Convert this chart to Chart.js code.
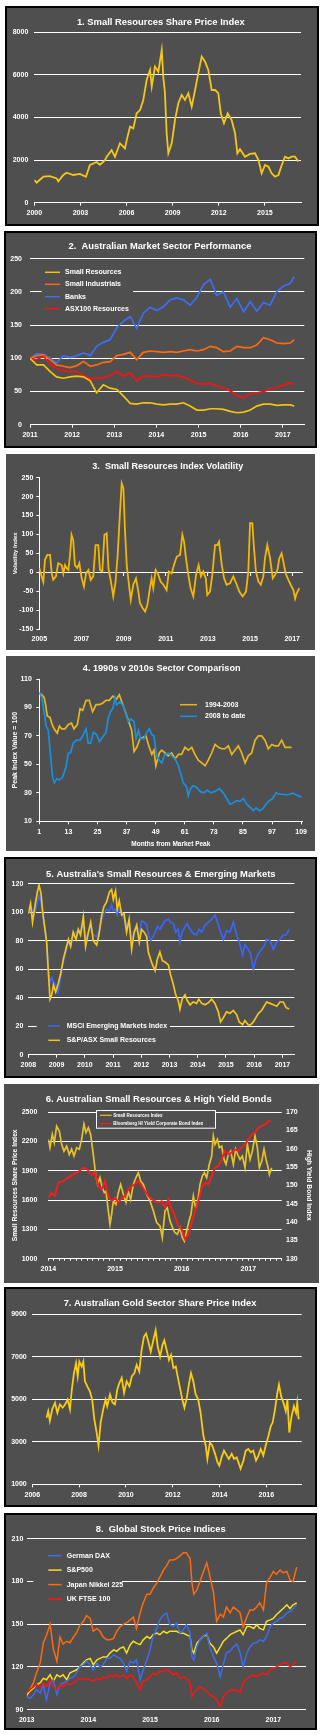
<!DOCTYPE html>
<html>
<head>
<meta charset="utf-8">
<script src="https://cdn.jsdelivr.net/npm/chart.js@4.4.1/dist/chart.umd.min.js"></script>
<style>
  body { margin: 0; background: #fff; width: 324px; height: 1735px; position: relative; overflow: hidden; }
  .panel { position: absolute; box-sizing: border-box; border: 2px solid #000; background: #4f4f4f; }
  .panel.plain { border-color: #4f4f4f; }
  .panel canvas { position: absolute; left: 0; top: 0; }
</style>
</head>
<body>
<div class="panel" style="left:5px;top:6px;width:314px;height:220px"><canvas id="c1" width="310" height="216"></canvas></div>
<div class="panel" style="left:4px;top:231px;width:313px;height:217px"><canvas id="c2" width="309" height="213"></canvas></div>
<div class="panel plain" style="left:6px;top:454px;width:309px;height:196px"><canvas id="c3" width="305" height="192"></canvas></div>
<div class="panel plain" style="left:6px;top:656px;width:309px;height:195px"><canvas id="c4" width="305" height="191"></canvas></div>
<div class="panel" style="left:4px;top:857px;width:313px;height:221px"><canvas id="c5" width="309" height="217"></canvas></div>
<div class="panel plain" style="left:4px;top:1084px;width:315px;height:199px"><canvas id="c6" width="311" height="195"></canvas></div>
<div class="panel" style="left:4px;top:1287px;width:313px;height:220px"><canvas id="c7" width="309" height="216"></canvas></div>
<div class="panel" style="left:4px;top:1513px;width:313px;height:217px"><canvas id="c8" width="309" height="213"></canvas></div>

<script>
// 1. Small Resources share price index
const c1Ticks = [2000, 2003, 2006, 2009, 2012, 2015];
const c1Years = [2000.00, 2000.15, 2000.59, 2001.02, 2001.45, 2001.56, 2001.89, 2002.10, 2002.54, 2002.97,
  2003.36, 2003.62, 2004.06, 2004.27, 2004.60, 2004.71, 2005.03, 2005.25, 2005.57, 2005.90,
  2006.01, 2006.23, 2006.44, 2006.66, 2006.88, 2007.09, 2007.31, 2007.53, 2007.64, 2007.85,
  2008.07, 2008.29, 2008.39, 2008.50, 2008.61, 2008.72, 2008.94, 2009.15, 2009.37, 2009.59,
  2009.80, 2010.02, 2010.24, 2010.46, 2010.67, 2010.89, 2011.11, 2011.32, 2011.54, 2011.76,
  2011.97, 2012.13, 2012.34, 2012.58, 2012.84, 2013.06, 2013.21, 2013.38, 2013.71, 2014.03,
  2014.36, 2014.58, 2014.79, 2015.01, 2015.23, 2015.44, 2015.66, 2015.88, 2016.10, 2016.31,
  2016.53, 2016.75, 2016.96, 2017.18];
const c1Index = [1065, 940, 1220, 1250, 1140, 1000, 1300, 1410, 1300, 1350,
  1220, 1770, 1910, 1780, 2000, 2160, 2470, 2160, 2790, 2550,
  2940, 3570, 3490, 4200, 4350, 4820, 5760, 6230, 5450, 6390,
  6150, 7170, 5920, 5140, 3260, 2320, 2790, 3880, 4670, 5060,
  4820, 5140, 4510, 5290, 6080, 6860, 6620, 6230, 5290, 5290,
  5140, 4200, 3730, 4200, 3880, 3260, 2320, 2510, 2160, 2290,
  2320, 2000, 1380, 1770, 1690, 1380, 1220, 1300, 1770, 2160,
  2080, 2160, 2160, 1930];

// 2. Australian market sector performance
const c2Ticks = [2011, 2012, 2013, 2014, 2015, 2016, 2017];
const c2Years = [2011.00, 2011.16, 2011.32, 2011.48, 2011.63, 2011.79, 2011.95, 2012.11, 2012.27, 2012.43,
  2012.58, 2012.74, 2012.90, 2013.06, 2013.22, 2013.38, 2013.53, 2013.69, 2013.85, 2014.01,
  2014.17, 2014.33, 2014.48, 2014.64, 2014.80, 2014.96, 2015.12, 2015.28, 2015.43, 2015.59,
  2015.75, 2015.91, 2016.07, 2016.23, 2016.38, 2016.54, 2016.70, 2016.86, 2017.02, 2017.18, 2017.27];
const c2SmallRes = [100, 90, 90, 80, 72, 70, 72, 73, 72, 66,
  48, 60, 55, 53, 43, 32, 31, 33, 33, 31,
  30, 31, 31, 33, 28, 22, 22, 24, 24, 23,
  20, 18, 19, 22, 28, 31, 31, 29, 30, 30, 28];
const c2SmallInd = [100, 104, 105, 98, 90, 88, 86, 89, 95, 88,
  90, 94, 95, 104, 106, 109, 98, 109, 111, 110,
  109, 110, 109, 111, 113, 111, 113, 118, 116, 110,
  111, 118, 116, 116, 120, 131, 128, 123, 122, 123, 128];
const c2Banks = [100, 107, 106, 100, 93, 104, 101, 104, 108, 104,
  118, 124, 128, 146, 156, 163, 145, 168, 177, 172,
  178, 188, 191, 188, 180, 192, 211, 219, 195, 200,
  177, 190, 170, 185, 171, 184, 180, 201, 209, 213, 223];
const c2Asx100Res = [100, 98, 103, 91, 85, 81, 80, 80, 74, 69,
  70, 71, 74, 80, 73, 78, 66, 74, 73, 72,
  75, 74, 74, 72, 67, 62, 61, 62, 59, 55,
  51, 44, 40, 47, 48, 50, 53, 56, 60, 63, 60];

// 3. Small Resources index volatility
const c3Ticks = [2005, 2007, 2009, 2011, 2013, 2015, 2017];
const c3Years = [
  2005.00, 2005.11, 2005.19, 2005.27, 2005.38, 2005.51, 2005.59, 2005.66, 2005.79, 2005.90,
  2006.06, 2006.14, 2006.22, 2006.30, 2006.38, 2006.46, 2006.53, 2006.61, 2006.69, 2006.80, 2006.90,
  2007.01, 2007.12, 2007.22, 2007.33, 2007.44, 2007.56, 2007.67, 2007.80, 2007.88, 2007.99,
  2008.09, 2008.20, 2008.28, 2008.40, 2008.51, 2008.62, 2008.72, 2008.83, 2008.91, 2008.99,
  2009.07, 2009.15, 2009.22, 2009.34, 2009.46, 2009.59, 2009.70, 2009.78, 2009.91,
  2010.02, 2010.13, 2010.25, 2010.33, 2010.41, 2010.52, 2010.65, 2010.76, 2010.89,
  2011.04, 2011.15, 2011.28, 2011.39, 2011.52, 2011.68, 2011.79, 2011.87, 2011.96,
  2012.07, 2012.18, 2012.31, 2012.44, 2012.56, 2012.67, 2012.78, 2012.90, 2012.97,
  2013.10, 2013.21, 2013.34, 2013.45, 2013.53, 2013.66, 2013.77, 2013.89,
  2014.05, 2014.21, 2014.37, 2014.49, 2014.65, 2014.81, 2014.92,
  2015.00, 2015.11, 2015.19, 2015.28, 2015.40, 2015.51, 2015.63, 2015.71, 2015.82, 2015.95,
  2016.08, 2016.19, 2016.30, 2016.39, 2016.50, 2016.58, 2016.69, 2016.82, 2016.93,
  2017.06, 2017.14, 2017.22, 2017.34];
const c3Volatility = [
  11, -11, -25, 33, 46, 46, -3, -20, -11, 24,
  19, -3, 19, 11, 6, 46, 99, 85, 19, 11, 24,
  -16, -38, -3, 6, -20, -11, 72, 72, 6, 2,
  99, 103, 11, -25, -64, -25, 46, 160, 235, 222,
  107, 19, -16, -73, -33, -16, -51, -82, -95,
  -104, -86, -42, -16, -42, 6, -7, -25, -33,
  -47, 2, -3, 19, 41, 46, 99, 81, 37,
  -7, -42, -64, -7, 19, -11, 2, -16, -60,
  -51, -7, 72, 72, 81, 19, -16, -33,
  -29, -11, -33, -51, -64, -51, 2,
  130, 130, 63, 2, -25, -33, -11, 37, 72, 37,
  -16, -7, 6, 37, 50, 28, -3, -20, -33,
  -47, -70, -55, -42];

// 4. 1990s v 2010s sector comparison (months from market peak)
const c4Ticks = [1, 13, 25, 37, 49, 61, 73, 85, 97, 109];
const c4MonthsEarly = [1, 2, 3, 3.6, 4.3, 5.4, 6.5, 7.5, 8.4, 9.3,
  10.2, 11.6, 13, 14.3, 15.3, 16.7, 17.8, 18.9, 20.3, 21.6,
  23, 24.4, 25.8, 27.1, 28.5, 29.9, 31.3, 32.9, 34, 35,
  36.3, 37.7, 39.1, 40.1, 41.2, 42.5, 43.9, 45, 46, 47.4,
  48.3, 49.1, 50.5, 51.5, 52.9, 54.2, 55.6, 57, 58.4, 59.7,
  61.1, 62.5, 63.9, 65.2, 66.6, 68, 69.4, 70.7, 72.1, 73.5,
  74.9, 76.2, 77.6, 79, 80.4, 81.7, 83.1, 84.5, 85.9, 87.2,
  88.6, 90, 91.4, 92.7, 94.1, 95.5, 96.9, 98.2, 99.6, 101,
  102.4, 103.7, 105.1];
const c4Early = [100, 99, 97, 92, 84, 83, 77, 74, 72, 77,
  75, 75, 78, 79, 75, 78, 89, 88, 95, 95,
  87, 92, 92, 93, 95, 95, 98, 96, 99, 94,
  88, 81, 74, 59, 62, 68, 69, 70, 64, 57,
  60, 49, 58, 60, 58, 56, 58, 54, 57, 57,
  62, 60, 62, 57, 53, 51, 49, 53, 58, 64,
  62, 61, 61, 63, 57, 60, 63, 58, 51, 56,
  58, 67, 70, 70, 67, 61, 64, 63, 63, 67,
  62, 62, 62];
const c4MonthsRecent = [1, 2, 3, 3.8, 4.7, 5.7, 6.5, 7.2, 8.2, 9.3,
  10.6, 12, 13, 13.9, 15, 16.4, 17.8, 18.9, 20.3, 21.2,
  22.2, 23.3, 24.7, 25.8, 27.1, 28.5, 29.5, 30.4, 31.5, 32.2,
  32.9, 34.3, 35.7, 36.8, 37.7, 38.8, 40.1, 40.9, 41.9, 42.8,
  44.2, 45.3, 46.4, 47.4, 48.3, 49.4, 50.5, 51.5, 52.9, 54.2,
  55.6, 57, 58.4, 59.3, 60.4, 61.8, 62.5, 63.4, 64.5, 65.9,
  67.3, 68.9, 70.3, 71.7, 73.5, 75.3, 76.9, 78.3, 79.7, 81.1,
  82.4, 83.8, 85.2, 86.6, 87.9, 89.3, 90.4, 91.8, 93.2, 94.5,
  95.9, 97.3, 98.7, 100, 101.4, 102.8, 104.2, 105.5, 107.2, 109.2];
const c4Recent = [100.6, 97, 86.6, 77, 74, 55, 41, 37, 40, 39,
  41, 48, 58, 58, 65, 67, 67, 70, 75, 65,
  65, 72.5, 71, 66, 69, 72.5, 83, 87, 90, 97,
  92, 94, 91, 85, 80, 82, 80, 68, 74, 68,
  68, 72.5, 75, 71, 70, 56, 53, 51, 57, 58,
  56, 54, 49, 44, 37, 34, 28, 33, 35, 34,
  31, 30, 32, 30, 31, 33, 30, 26, 22, 23,
  24.5, 24, 26, 22, 20, 17.5, 19.4, 17.5, 18.7, 22,
  24.5, 26, 30, 29, 29, 28.5, 29, 29.7, 28.5, 27];

// 5. Australia's small resources & emerging markets
const c5Ticks = [2008, 2009, 2010, 2011, 2012, 2013, 2014, 2015, 2016, 2017];
const c5Years = [2008.00, 2008.08, 2008.15, 2008.24, 2008.32, 2008.38, 2008.45, 2008.51, 2008.59, 2008.65,
  2008.71, 2008.77, 2008.83, 2008.89, 2008.97, 2009.06, 2009.16, 2009.24, 2009.33, 2009.42,
  2009.50, 2009.59, 2009.69, 2009.77, 2009.85, 2009.95, 2010.03, 2010.13, 2010.21, 2010.30,
  2010.42, 2010.50, 2010.60, 2010.68, 2010.77, 2010.87, 2010.95, 2011.01, 2011.09, 2011.15,
  2011.22, 2011.31, 2011.39, 2011.48, 2011.57, 2011.66, 2011.75, 2011.84, 2011.93, 2012.01,
  2012.10, 2012.19, 2012.25, 2012.33, 2012.40, 2012.49, 2012.57, 2012.66, 2012.75, 2012.84,
  2012.96, 2013.04, 2013.14, 2013.22, 2013.31, 2013.37, 2013.45, 2013.55, 2013.63, 2013.73,
  2013.84, 2013.96, 2014.04, 2014.14, 2014.26, 2014.38, 2014.49, 2014.61, 2014.73, 2014.81,
  2014.91, 2015.02, 2015.14, 2015.26, 2015.38, 2015.47, 2015.59, 2015.67, 2015.79, 2015.87,
  2015.97, 2016.06, 2016.15, 2016.26, 2016.38, 2016.44, 2016.56, 2016.68, 2016.80, 2016.91,
  2017.03, 2017.13, 2017.24];
const c5SmallRes = [99, 106, 93, 105, 114, 119, 113, 100, 88, 79,
  58, 39, 42, 49, 44, 50, 58, 67, 74, 81,
  76, 86, 81, 88, 84, 97, 76, 86, 93, 80,
  77, 84, 98, 104, 107, 114, 116, 109, 115, 102,
  108, 98, 99, 86, 95, 74, 86, 91, 79, 88,
  86, 83, 72, 67, 63, 59, 67, 72, 66, 65,
  63, 56, 49, 42, 38, 32, 39, 42, 38, 35,
  37, 36, 39, 36, 35, 36.5, 39, 36, 30, 23,
  26, 30, 29, 31, 28, 23, 21, 24, 21, 21,
  23, 26, 29, 31, 35, 37, 36, 35, 34, 37,
  37, 33, 32];
const c5Msci = [99, 104, 101, 100, 107, 112, 107, 99, 88, 78,
  60, 51, 54, 51, 49, 44, 56, 65, 72, 79,
  77, 84, 86, 86, 87, 91, 81, 86, 90, 84,
  83, 87, 95, 99, 102, 101, 105, 101, 102, 98,
  102, 100, 95, 91, 93, 81, 86, 88, 84, 94,
  93, 91, 85, 80, 82, 86, 90, 88, 91, 94,
  95, 93, 92, 86, 88, 79, 86, 90, 92, 88,
  85, 84, 88, 86, 91, 93, 95, 98, 91, 86,
  81, 87, 86, 93, 84, 79, 70, 77, 74, 71,
  60, 67, 71, 74, 77, 81, 80, 74, 79, 81,
  84, 84, 88];

// 6. Australian small resources & high yield bonds
const c6Ticks = [2014, 2015, 2016, 2017];
const c6ResYears = [2014.000, 2014.025, 2014.06, 2014.09, 2014.125, 2014.165, 2014.20, 2014.235, 2014.275, 2014.315,
  2014.35, 2014.385, 2014.425, 2014.465, 2014.50, 2014.535, 2014.565, 2014.60, 2014.635, 2014.675,
  2014.71, 2014.74, 2014.775, 2014.81, 2014.84, 2014.865, 2014.90, 2014.925, 2014.95, 2014.975,
  2015.015, 2015.05, 2015.085, 2015.125, 2015.165, 2015.20, 2015.235, 2015.275, 2015.315, 2015.35,
  2015.385, 2015.425, 2015.475, 2015.525, 2015.575, 2015.625, 2015.675, 2015.71, 2015.75, 2015.785,
  2015.825, 2015.865, 2015.90, 2015.935, 2015.975, 2016.01, 2016.04, 2016.075, 2016.11, 2016.14,
  2016.175, 2016.21, 2016.24, 2016.275, 2016.31, 2016.34, 2016.375, 2016.415, 2016.45, 2016.475,
  2016.50, 2016.535, 2016.565, 2016.60, 2016.635, 2016.665, 2016.70, 2016.735, 2016.775, 2016.81,
  2016.84, 2016.875, 2016.91, 2016.95, 2016.985, 2017.025, 2017.06, 2017.10, 2017.135, 2017.165,
  2017.20, 2017.235, 2017.265, 2017.29, 2017.315, 2017.35];
const c6SmallRes = [2220, 2135, 2270, 2185, 2355, 2305, 2170, 2100, 2150, 2065,
  2120, 2050, 2135, 2120, 2220, 2375, 2290, 2340, 2270, 2065,
  1860, 1760, 1830, 1725, 1675, 1690, 1490, 1350, 1455, 1590,
  1555, 1675, 1760, 1660, 1575, 1690, 1605, 1760, 1830, 1880,
  1795, 1760, 1660, 1590, 1490, 1370, 1335, 1215, 1490, 1520,
  1385, 1315, 1265, 1250, 1315, 1215, 1180, 1285, 1385, 1455,
  1640, 1520, 1575, 1760, 1845, 1880, 1830, 1965, 2050, 2255,
  2170, 2220, 2135, 2150, 2015, 1965, 2065, 2100, 1965, 2120,
  2065, 2015, 2050, 1930, 2170, 2015, 2100, 2255, 2135, 1930,
  1995, 2120, 2015, 1950, 1860, 1930];
const c6BondYears = [2014.00, 2014.05, 2014.10, 2014.15, 2014.225, 2014.30, 2014.375, 2014.45, 2014.525, 2014.585,
  2014.65, 2014.70, 2014.75, 2014.80, 2014.85, 2014.90, 2014.95,
  2015.00, 2015.05, 2015.10, 2015.15, 2015.20, 2015.25, 2015.30, 2015.35, 2015.40, 2015.45,
  2015.50, 2015.55, 2015.60, 2015.65, 2015.70, 2015.75, 2015.80, 2015.85, 2015.90, 2015.95,
  2016.00, 2016.05, 2016.10, 2016.15, 2016.20, 2016.25, 2016.30, 2016.35, 2016.40, 2016.45,
  2016.50, 2016.55, 2016.60, 2016.65, 2016.70, 2016.75, 2016.80, 2016.85, 2016.90, 2016.95,
  2017.00, 2017.05, 2017.10, 2017.15, 2017.20, 2017.25, 2017.30, 2017.335];
const c6Bonds = [146.6, 148, 147.1, 150.7, 151.2, 152.1, 153, 153.7, 154.8, 154.4,
  152.8, 153.5, 149.8, 148.9, 151.2, 147.1, 145.7,
  146.6, 145.3, 146.6, 147.1, 148.9, 149.8, 150.3, 151.2, 149.8, 148.5,
  147.1, 146.2, 145.7, 145.3, 145.7, 143.9, 146.2, 143.5, 141.6, 138.9,
  138, 135.3, 136.6, 139.8, 143, 145.7, 149.4, 150.7, 150.3, 152.5,
  154.8, 155.3, 157.1, 159.4, 158.5, 158.9, 159.8, 159.4, 160.3, 161.2,
  162.5, 163.9, 164.4, 165.7, 166.2, 166.6, 167.4, 167.7];

// 7. Australian gold sector share price index
const c7Ticks = [2006, 2008, 2010, 2012, 2014, 2016];
const c7Years = [
  2006.61, 2006.68, 2006.75, 2006.85, 2006.97,
  2007.07, 2007.18, 2007.30, 2007.40, 2007.51, 2007.61, 2007.68, 2007.78, 2007.87, 2007.94,
  2008.01, 2008.11, 2008.18, 2008.25, 2008.35, 2008.46, 2008.56, 2008.65, 2008.75, 2008.83, 2008.92,
  2009.03, 2009.13, 2009.20, 2009.32, 2009.43, 2009.53, 2009.63, 2009.72, 2009.82, 2009.92,
  2010.03, 2010.15, 2010.25, 2010.36, 2010.46, 2010.57, 2010.67, 2010.77, 2010.86, 2010.96,
  2011.06, 2011.17, 2011.27, 2011.36, 2011.46, 2011.56, 2011.64, 2011.74, 2011.84, 2011.93,
  2012.03, 2012.13, 2012.21, 2012.31, 2012.41, 2012.50, 2012.60, 2012.70, 2012.78, 2012.88, 2012.98,
  2013.09, 2013.19, 2013.31, 2013.41, 2013.48, 2013.59, 2013.69, 2013.81, 2013.91, 2013.99,
  2014.09, 2014.19, 2014.31, 2014.40, 2014.52, 2014.62, 2014.73, 2014.83, 2014.90,
  2015.02, 2015.12, 2015.23, 2015.33, 2015.44, 2015.56, 2015.66, 2015.76, 2015.87, 2015.97,
  2016.09, 2016.19, 2016.27, 2016.37, 2016.47, 2016.54, 2016.63, 2016.73, 2016.83, 2016.90, 2016.98,
  2017.08, 2017.18, 2017.27, 2017.32, 2017.38];
const c7Gold = [
  4130, 4440, 3980, 4520, 4830,
  4360, 4750, 4600, 4750, 4980, 4520, 5370, 6220, 6690, 6070,
  6770, 6530, 6770, 5840, 5600, 5370, 4980, 4050, 3430, 2810, 3900,
  4520, 4980, 4670, 5220, 4830, 4750, 5450, 5760, 6000, 5290,
  5840, 5600, 6070, 6220, 6610, 6300, 7310, 7930, 8080, 7700,
  7230, 7770, 8240, 7460, 7000, 7540, 7770, 7310, 6840, 7080,
  6460, 6530, 6070, 5530, 4980, 4600, 5060, 5760, 6220, 5840, 5220,
  4980, 4360, 3280, 2810, 2190, 2970, 2810, 2430, 2040, 1880,
  2270, 2580, 2350, 2190, 2430, 2190, 2270, 1960, 1730,
  2120, 2580, 2660, 2500, 2580, 2120, 2350, 2660, 2350, 2810,
  3280, 3740, 3900, 4520, 5290, 5680, 5140, 4830, 4440, 4980, 3430,
  4210, 4670, 4360, 4830, 4050];

// 8. Global stock price indices
const c8Ticks = [2013, 2014, 2015, 2016, 2017];
const c8Years = [2013.00, 2013.05, 2013.11, 2013.16, 2013.22, 2013.27, 2013.32, 2013.38, 2013.43, 2013.49,
  2013.54, 2013.59, 2013.65, 2013.70, 2013.76, 2013.81, 2013.86, 2013.92, 2013.97,
  2014.03, 2014.08, 2014.14, 2014.19, 2014.24, 2014.30, 2014.35, 2014.41, 2014.46, 2014.51,
  2014.57, 2014.62, 2014.68, 2014.73, 2014.78, 2014.84, 2014.89, 2014.95,
  2015.00, 2015.05, 2015.11, 2015.16, 2015.22, 2015.27, 2015.32, 2015.38, 2015.43, 2015.49,
  2015.54, 2015.59, 2015.65, 2015.68, 2015.71, 2015.76, 2015.81, 2015.86, 2015.92, 2015.97,
  2016.03, 2016.08, 2016.14, 2016.19, 2016.24, 2016.30, 2016.35, 2016.41, 2016.46, 2016.51,
  2016.57, 2016.62, 2016.68, 2016.73, 2016.78, 2016.84, 2016.89, 2016.95,
  2017.00, 2017.05, 2017.11, 2017.16, 2017.22, 2017.27, 2017.32, 2017.38];
const c8Nikkei = [99, 104, 109, 116, 123, 137, 142, 150, 133, 124,
  141, 136, 138, 137, 141, 144, 149, 152, 156,
  154, 145, 147, 145, 141, 139, 139, 140, 145, 148,
  150, 151, 153, 155, 147, 158, 165, 171,
  171, 175, 179, 183, 188, 191, 195, 195, 196, 198,
  200, 200, 196, 179, 171, 174, 180, 186, 193, 184,
  172, 152, 157, 155, 162, 158, 162, 160, 158, 148,
  155, 160, 160, 162, 165, 160, 179, 183,
  187, 185, 188, 186, 187, 181, 180, 190];
const c8Sp500 = [100.5, 103, 105, 107.5, 109, 112, 111, 114.5, 110, 114.5,
  113, 114.5, 111, 115.7, 117, 118, 120, 123, 125,
  126, 121.5, 125, 126, 127, 127, 129.7, 132, 131, 133,
  134, 129.7, 135.6, 138, 136.7, 135.6, 139, 141.4,
  140, 142.6, 143.7, 142.6, 145, 143.7, 145, 145, 145, 143.7,
  143.7, 142.6, 141.4, 132, 129.7, 136.7, 139, 141.4, 142.6, 136.7,
  134, 129.7, 134, 138, 140, 142.6, 143.7, 145, 146, 142.6,
  148.4, 148.4, 147, 149.6, 147, 146, 152, 153,
  154, 156.6, 159, 161, 163.6, 161, 163.6, 164.8];
const c8Dax = [99, 98, 100.5, 104, 101.7, 107.5, 97, 108.7, 111, 100.5,
  107.5, 108.7, 110, 112, 113, 115.7, 120, 121.5, 124,
  121.5, 118, 122.7, 120, 121.5, 126, 126, 128.6, 127, 126,
  122.7, 117, 124, 122.7, 125, 111, 118, 125,
  132, 141.4, 147, 153, 156.6, 157.8, 149.6, 148.4, 150.7, 143.7,
  146, 149.6, 143.7, 127, 125, 134, 139, 141.4, 143.7, 134,
  127, 122.7, 113, 122, 129.7, 131, 134, 136, 130, 120,
  129.7, 134, 136.7, 136.7, 139, 138, 141.4, 148.4,
  150.7, 152, 154, 155, 157.8, 159, 161, 163.6];
const c8Ftse = [101.7, 104, 106, 107.5, 106, 108.7, 106, 111, 106, 104,
  107.5, 106, 108.7, 107.5, 108.7, 111, 112, 111, 112,
  111, 110, 112, 111, 113, 112, 114.5, 113, 114.5, 113,
  114.5, 112, 114.5, 113, 108.7, 104, 110, 111,
  113, 115.7, 114.5, 117, 117, 118, 117, 114.5, 115.7, 112,
  113, 112, 108.7, 99, 101.7, 104, 106, 105, 103, 100.5,
  99, 97, 92.3, 99, 102, 103.5, 104, 103.5, 102, 108.7,
  112, 113, 114.5, 113, 114.5, 115.7, 114.5, 118,
  119, 120, 121.5, 122.7, 122.7, 120, 121.5, 124];

const PANEL = '#4f4f4f';
const WHITE = '#ffffff';
const FONT = '"Liberation Sans", Arial, sans-serif';

Chart.defaults.font.family = FONT;
Chart.defaults.font.weight = 'bold';
Chart.defaults.color = WHITE;

function line(label, xs, ys, color, extra) {
  return Object.assign({
    label,
    data: xs.map((x, i) => ({ x, y: ys[i] })),
    borderColor: color,
    borderWidth: 1.7,
    pointRadius: 0,
    fill: false,
    tension: 0
  }, extra || {});
}

function xScale(o) {
  const s = {
    type: 'linear', min: o.min, max: o.max,
    afterBuildTicks: axis => { axis.ticks = o.ticks.map(v => ({ value: v })); },
    ticks: {
      display: o.labels !== false,
      font: { size: 7 }, padding: o.pad || 0,
      maxRotation: 0, minRotation: 0, autoSkip: false,
      callback: o.label || (v => String(v))
    },
    grid: { drawOnChartArea: false, drawTicks: !!o.tick, tickLength: o.tick || 0, color: WHITE, lineWidth: 1 },
    border: { display: !!o.border, color: WHITE, width: 1 }
  };
  if (o.height !== undefined) s.afterFit = axis => { axis.height = o.height; };
  if (o.position) s.position = o.position;
  if (o.title) {
    s.title = { display: true, text: o.title, color: WHITE, font: { size: o.titleSize }, padding: { top: 0, bottom: o.titlePad } };
  }
  return s;
}

function yScale(o) {
  const s = {
    type: 'linear', min: o.min, max: o.max, position: o.position || 'left',
    afterFit: axis => { axis.width = o.width; },
    ticks: { stepSize: o.step, font: { size: 7 }, padding: o.pad, callback: v => String(v) },
    grid: { drawOnChartArea: !!o.grid, drawTicks: !!o.tick, tickLength: o.tick || 0, color: WHITE, lineWidth: 1 },
    border: { display: !!o.border, color: WHITE, width: 1 }
  };
  if (o.title) {
    s.title = { display: true, text: o.title, color: WHITE, font: { size: o.titleSize }, padding: { top: o.titlePad, bottom: 0 } };
  }
  return s;
}

// title centred on a point, sized to the width it has in the picture
function titlePlugin(text, x, y, width) {
  return {
    id: 'panelTitle',
    afterDraw(chart) {
      const ctx = chart.ctx;
      ctx.save();
      ctx.font = `bold 10px ${FONT}`;
      const size = 10 * width / ctx.measureText(text).width;
      ctx.font = `bold ${size.toFixed(2)}px ${FONT}`;
      ctx.fillStyle = WHITE;
      ctx.textAlign = 'center';
      ctx.textBaseline = 'middle';
      ctx.fillText(text, x, y);
      ctx.restore();
    }
  };
}

// legend drawn inside the plot
function legendPlugin(o) {
  return {
    id: 'insideLegend',
    afterDraw(chart) {
      const ctx = chart.ctx;
      ctx.save();
      if (o.box) {
        const [x0, y0, x1, y1] = o.box;
        ctx.fillStyle = PANEL;
        ctx.fillRect(x0, y0, x1 - x0, y1 - y0);
        if (o.frame) {
          ctx.strokeStyle = WHITE;
          ctx.lineWidth = 1;
          ctx.strokeRect(x0 + 0.5, y0 + 0.5, x1 - x0 - 1, y1 - y0 - 1);
        }
      }
      ctx.font = `bold ${o.size}px ${FONT}`;
      ctx.textAlign = 'left';
      ctx.textBaseline = 'middle';
      o.order.forEach((di, i) => {
        const ds = chart.data.datasets[di];
        const y = o.rows[i];
        ctx.strokeStyle = ds.borderColor;
        ctx.lineWidth = o.lw || 1.5;
        ctx.beginPath();
        ctx.moveTo(o.x0, y);
        ctx.lineTo(o.x1, y);
        ctx.stroke();
        ctx.fillStyle = WHITE;
        ctx.fillText(ds.label, o.tx, y);
      });
      ctx.restore();
    }
  };
}

function build(id, datasets, scales, padding, plugins) {
  return new Chart(document.getElementById(id), {
    type: 'line',
    data: { datasets },
    options: {
      responsive: false,
      animation: false,
      events: [],
      layout: { padding },
      plugins: { legend: { display: false }, tooltip: { enabled: false } },
      scales
    },
    plugins
  });
}

// 1
build('c1',
  [line('Small Resources', c1Years, c1Index, '#f5c816', { borderWidth: 1.8 })],
  {
    x: xScale({ min: 2000, max: 2017.35, ticks: c1Ticks, height: 21.3, tick: 3, pad: 3, border: true }),
    y: yScale({ min: 0, max: 8000, step: 2000, width: 27.3, pad: 6, grid: true })
  },
  { left: 0, top: 24.3, right: 16, bottom: 0 },
  [titlePlugin('1. Small Resources Share Price Index', 153.8, 14, 168)]
);

// 2
build('c2',
  [
    line('Small Resources', c2Years, c2SmallRes, '#f2c40c', { order: 0 }),
    line('Small Industrials', c2Years, c2SmallInd, '#ff6a10', { order: 2 }),
    line('Banks', c2Years, c2Banks, '#3d6ef5', { order: 3 }),
    line('ASX100 Resources', c2Years, c2Asx100Res, '#ff1010', { order: 1 })
  ],
  {
    x: xScale({ min: 2011, max: 2017.51, ticks: c2Ticks, height: 21.3, tick: 3, pad: 3.5, border: true }),
    y: yScale({ min: 0, max: 250, step: 50, width: 24, pad: 8, grid: true })
  },
  { left: 0, top: 25.7, right: 10.7, bottom: 0 },
  [
    titlePlugin('2.  Australian Market Sector Performance', 154, 13, 183),
    legendPlugin({ box: [35.7, 32, 127, 82], rows: [39.3, 51.3, 63.7, 75.7], x0: 39, x1: 54, tx: 59, size: 7, order: [0, 1, 2, 3] })
  ]
);

// 3
build('c3',
  [line('Volatility', c3Years, c3Volatility, '#f2b705', { borderWidth: 1.8 })],
  {
    x: xScale({ min: 2005, max: 2017.5, ticks: c3Ticks, height: 19, pad: 6 }),
    x0: xScale({ min: 2005, max: 2017.5, ticks: c3Ticks, position: { y: 0 }, labels: false, tick: 3, border: true }),
    y: yScale({ min: -150, max: 250, step: 50, width: 31.3, pad: 3, tick: 3, border: true,
      title: 'Volatility Index', titleSize: 6, titlePad: 3.4 })
  },
  { left: 0, top: 21.7, right: 10.3, bottom: 0 },
  [titlePlugin('3.  Small Resources Index Volatility', 159.8, 11, 151)]
);

// 4
build('c4',
  [
    line('1994-2003', c4MonthsEarly, c4Early, '#e8b61c', { order: 1 }),
    line('2008 to date', c4MonthsRecent, c4Recent, '#1a8fe0', { order: 0 })
  ],
  {
    x: xScale({ min: 1, max: 109.5, ticks: c4Ticks, height: 27.7, tick: 3, pad: 4, border: true,
      title: 'Months from Market Peak', titleSize: 6.5, titlePad: 1.1 }),
    y: yScale({ min: 10, max: 110, step: 20, width: 31.3, pad: 4.5, tick: 3, border: true,
      title: 'Peak Index Value = 100', titleSize: 7, titlePad: 2.8 })
  },
  { left: 0, top: 21, right: 10.7, bottom: 0 },
  [
    titlePlugin('4. 1990s v 2010s Sector Comparison', 153.7, 10, 158),
    legendPlugin({ rows: [46.7, 58.3], x0: 172, x1: 189, tx: 197, size: 7, order: [0, 1] })
  ]
);

// 5
build('c5',
  [
    line('MSCI Emerging Markets Index', c5Years, c5Msci, '#3a66f5', { order: 1 }),
    line('S&P/ASX Small Resources', c5Years, c5SmallRes, '#f5c518', { order: 0 })
  ],
  {
    x: xScale({ min: 2008, max: 2017.42, ticks: c5Ticks, height: 21.3, tick: 3, pad: 3.5, border: true }),
    y: yScale({ min: 0, max: 120, step: 20, width: 22.3, pad: 5, grid: true })
  },
  { left: 0, top: 24.7, right: 20.7, bottom: 0 },
  [
    titlePlugin("5. Australia's Small Resources & Emerging Markets", 154.8, 15, 230),
    legendPlugin({ box: [30.7, 160, 164, 188], rows: [167, 181.3], x0: 42.3, x1: 54, tx: 60.7, size: 7, order: [0, 1] })
  ]
);

// 6
const c6Months = [];
for (let m = 0; c6Ticks[0] + m / 12 <= 2017.5; m++) c6Months.push(c6Ticks[0] + m / 12);
build('c6',
  [
    line('Small Resources Index', c6ResYears, c6SmallRes, '#e6c229', { order: 1, yAxisID: 'y' }),
    line('Bloomberg HI Yield Corporate Bond Index', c6BondYears, c6Bonds, '#ff1a1a', { order: 0, yAxisID: 'y2', borderWidth: 1.9 })
  ],
  {
    x: xScale({ min: 2014, max: 2017.5, ticks: c6Months, height: 22.3, tick: 2, pad: 4.5, border: true,
      label: v => c6Ticks.some(t => Math.abs(t - v) < 1e-6) ? String(Math.round(v)) : '' }),
    y: yScale({ min: 1000, max: 2500, step: 300, width: 42.3, pad: 11, grid: true,
      title: 'Small Resources Share Price Index', titleSize: 6.7, titlePad: 5.3 }),
    y2: yScale({ min: 130, max: 170, step: 5, position: 'right', width: 35.3, pad: 4.3,
      title: 'High Yield Bond Index', titleSize: 6.7, titlePad: 4 })
  },
  { left: 0, top: 26, right: 0, bottom: 0 },
  [
    titlePlugin('6. Australian Small Resources & High Yield Bonds', 152.7, 13, 226),
    legendPlugin({ box: [90, 24, 210, 42.7], frame: true, rows: [29.3, 37.7], x0: 94, x1: 105.7, tx: 107.3, size: 4.5, lw: 1.2, order: [0, 1] })
  ]
);

// 7
build('c7',
  [line('Gold', c7Years, c7Gold, '#f7cc12', { borderWidth: 1.8 })],
  {
    x: xScale({ min: 2006, max: 2017.51, ticks: c7Ticks, height: 20.7, tick: 3, pad: 4, border: true }),
    y: yScale({ min: 1000, max: 9000, step: 2000, width: 26.3, pad: 5.6, grid: true })
  },
  { left: 0, top: 25, right: 13.3, bottom: 0 },
  [titlePlugin('7. Australian Gold Sector Share Price Index', 154, 14, 193)]
);

// 8
build('c8',
  [
    line('German DAX', c8Years, c8Dax, '#3c6cf0', { order: 1, borderWidth: 1.5 }),
    line('S&P500', c8Years, c8Sp500, '#f5df1e', { order: 2, borderWidth: 1.5 }),
    line('Japan Nikkei 225', c8Years, c8Nikkei, '#ff6a0d', { order: 3, borderWidth: 1.5 }),
    line('UK FTSE 100', c8Years, c8Ftse, '#ff1414', { order: 0, borderWidth: 1.5 })
  ],
  {
    x: xScale({ min: 2013, max: 2017.53, ticks: c8Ticks, height: 18.3, pad: 6 }),
    y: yScale({ min: 90, max: 210, step: 30, width: 20.7, pad: 3.4, grid: true })
  },
  { left: 0, top: 23.6, right: 9, bottom: 0 },
  [
    titlePlugin('8.  Global Stock Price Indices', 154.7, 14, 130),
    legendPlugin({ box: [27.3, 34, 116, 90], rows: [40.7, 55.1, 69.6, 84], x0: 42.3, x1: 55.7, tx: 60.7, size: 7, order: [0, 1, 2, 3] })
  ]
);
</script>
</body>
</html>
